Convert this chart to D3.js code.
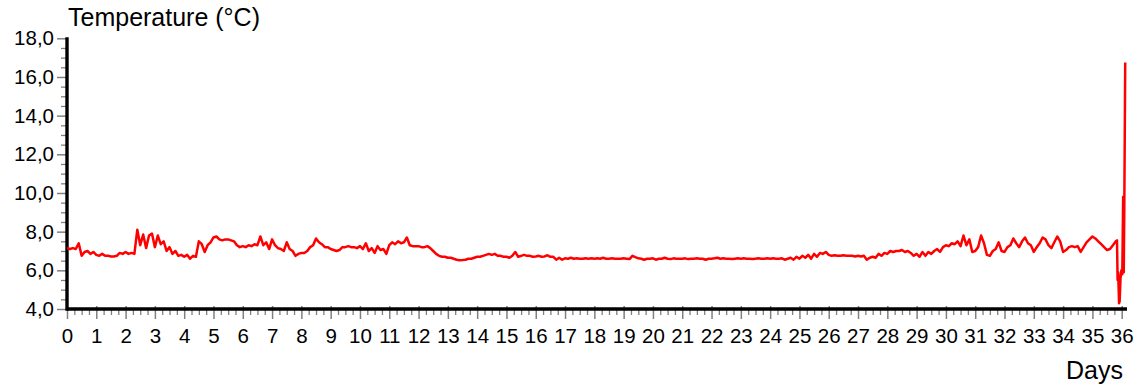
<!DOCTYPE html>
<html>
<head>
<meta charset="utf-8">
<script src="https://cdn.jsdelivr.net/npm/d3@7"></script>
<style>
  html, body { margin: 0; padding: 0; background: #fff; }
  svg { display: block; }
  text { font-family: "Liberation Sans", Arial, sans-serif; fill: #000; }
</style>
</head>
<body>
<svg id="chart" width="1138" height="389"></svg>
<script>
// ---- data ----
const yTitle = "Temperature (°C)";
const xTitle = "Days";
const xTickValues = d3.range(0, 37, 1);
const yTickValues = [4, 6, 8, 10, 12, 14, 16, 18];
const mainStartDay = 0;
const mainStepDays = 0.1;
// temperatures every 0.1 day from day 0.0 to day 35.8
const mainTemps = [
  7.15, 7.1, 7.15, 7.1, 7.4, 6.75, 6.95, 7.0, 6.85, 6.95,
  6.8, 6.75, 6.85, 6.75, 6.75, 6.72, 6.72, 6.75, 6.9, 6.85,
  6.95, 6.85, 6.9, 6.85, 8.1, 7.3, 7.85, 7.15, 7.8, 7.9,
  7.2, 7.8, 7.35, 7.5, 7.0, 7.2, 6.85, 7.0, 6.75, 6.8,
  6.7, 6.8, 6.6, 6.75, 6.7, 7.5, 7.35, 6.95, 7.3, 7.45,
  7.7, 7.75, 7.6, 7.55, 7.6, 7.6, 7.55, 7.5, 7.3, 7.2,
  7.25, 7.2, 7.3, 7.25, 7.35, 7.3, 7.75, 7.3, 7.45, 7.1,
  7.6, 7.3, 7.15, 7.1, 7.0, 7.45, 7.1, 7.0, 6.75, 6.85,
  6.9, 6.9, 7.0, 7.2, 7.3, 7.65, 7.45, 7.35, 7.2, 7.2,
  7.1, 7.05, 7.0, 7.05, 7.2, 7.2, 7.25, 7.2, 7.2, 7.15,
  7.25, 7.1, 7.4, 7.0, 7.15, 6.9, 7.25, 7.05, 7.1, 6.85,
  7.3, 7.45, 7.35, 7.5, 7.4, 7.45, 7.7, 7.3, 7.25, 7.25,
  7.25, 7.2, 7.2, 7.25, 7.15, 7.0, 6.85, 6.75, 6.7, 6.7,
  6.65, 6.65, 6.6, 6.55, 6.52, 6.53, 6.55, 6.6, 6.6, 6.65,
  6.7, 6.7, 6.75, 6.8, 6.85, 6.8, 6.85, 6.75, 6.75, 6.7,
  6.7, 6.65, 6.75, 6.95, 6.7, 6.75, 6.8, 6.75, 6.75, 6.7,
  6.72, 6.75, 6.7, 6.72, 6.78, 6.7, 6.7, 6.55, 6.65, 6.55,
  6.62, 6.6, 6.65, 6.6, 6.62, 6.6, 6.6, 6.62, 6.6, 6.62,
  6.6, 6.62, 6.6, 6.65, 6.6, 6.6, 6.62, 6.6, 6.6, 6.6,
  6.62, 6.6, 6.58, 6.75, 6.68, 6.62, 6.6, 6.55, 6.6, 6.6,
  6.62, 6.55, 6.6, 6.6, 6.65, 6.6, 6.58, 6.62, 6.6, 6.6,
  6.6, 6.62, 6.58, 6.6, 6.6, 6.62, 6.6, 6.6, 6.55, 6.6,
  6.6, 6.62, 6.65, 6.6, 6.62, 6.6, 6.6, 6.58, 6.6, 6.62,
  6.6, 6.62, 6.6, 6.6, 6.58, 6.6, 6.62, 6.6, 6.6, 6.62,
  6.6, 6.62, 6.6, 6.6, 6.62, 6.55, 6.6, 6.65, 6.55, 6.7,
  6.6, 6.75, 6.65, 6.8, 6.6, 6.85, 6.7, 6.9, 6.85, 6.95,
  6.8, 6.75, 6.78, 6.75, 6.75, 6.78, 6.75, 6.75, 6.75, 6.72,
  6.75, 6.72, 6.75, 6.55, 6.65, 6.7, 6.65, 6.85, 6.75, 6.9,
  6.85, 7.0, 6.95, 7.0, 7.0, 7.05, 6.95, 7.0, 6.9, 6.75,
  6.85, 6.7, 6.95, 6.75, 6.95, 6.85, 7.0, 7.1, 6.95, 7.2,
  7.3, 7.25, 7.4, 7.35, 7.5, 7.25, 7.8, 7.3, 7.6, 6.95,
  7.0, 7.2, 7.8, 7.4, 6.8, 6.75, 7.0, 7.1, 7.45, 7.0,
  6.95, 7.2, 7.3, 7.65, 7.4, 7.2, 7.5, 7.7, 7.4, 7.3,
  6.95, 7.2, 7.4, 7.7, 7.6, 7.3, 7.15, 7.45, 7.75, 7.5,
  6.95, 7.05, 7.2, 7.25, 7.2, 7.25, 6.95, 7.2, 7.45, 7.6,
  7.75, 7.65, 7.5, 7.35, 7.2, 7.05, 7.1, 7.3, 7.5
];
// final minutes: drop and spike at the end of the record
const tailDays  = [35.84, 35.86, 35.88, 35.91, 35.93, 35.96, 35.99, 36.02, 36.05, 36.07, 36.09, 36.12];
const tailTemps = [7.55, 5.5, 5.9, 4.3, 4.4, 5.6, 6.0, 5.8, 9.8, 5.9, 9.5, 16.75];

const series = mainTemps.map((t, i) => ({ day: mainStartDay + i * mainStepDays, temp: t }))
  .concat(tailDays.map((d, i) => ({ day: d, temp: tailTemps[i] })));

// ---- layout ----
const svg = d3.select("#chart");
const x = d3.scaleLinear().domain([0, 36]).range([67, 1121.7]);
const y = d3.scaleLinear().domain([4, 18]).range([309, 38.3]);
const fmt = d => d.toFixed(1).replace(".", ",");
const tickColor = "#808080";

// Y axis minor ticks
const yMinor = d3.range(4, 18.01, 0.5).filter(v => Math.abs(v % 2) > 0.01);
svg.append("g").attr("transform", "translate(67,0)")
  .call(d3.axisLeft(y).tickValues(yMinor).tickSize(6).tickFormat(""))
  .call(g => g.select(".domain").remove())
  .call(g => g.selectAll("line").attr("stroke", tickColor).attr("stroke-width", 1.3));
// Y axis major ticks + labels
svg.append("g").attr("transform", "translate(67,0)")
  .call(d3.axisLeft(y).tickValues(yTickValues).tickSize(10).tickPadding(3).tickFormat(fmt))
  .call(g => g.select(".domain").remove())
  .call(g => g.selectAll("line").attr("stroke", tickColor).attr("stroke-width", 1.5))
  .call(g => g.selectAll("text").attr("font-size", 20.5).attr("font-family", "Liberation Sans, Arial, sans-serif").attr("fill", "#000"));

// X axis minor ticks
const xMinor = d3.range(0, 36.01, 0.25).filter(v => Math.abs(v - Math.round(v)) > 0.01);
svg.append("g").attr("transform", "translate(0,309)")
  .call(d3.axisBottom(x).tickValues(xMinor).tickSize(6).tickFormat(""))
  .call(g => g.select(".domain").remove())
  .call(g => g.selectAll("line").attr("stroke", tickColor).attr("stroke-width", 1.3));
// X axis major ticks + labels
const gx = svg.append("g").attr("transform", "translate(0,306)")
  .call(d3.axisBottom(x).tickValues(xTickValues).tickSize(13).tickFormat(d3.format("d")))
  .call(g => g.select(".domain").remove())
  .call(g => g.selectAll("line").attr("stroke", tickColor).attr("stroke-width", 1.5));
gx.selectAll("text").attr("y", 36.5).attr("dy", null)
  .attr("font-size", 20.5).attr("font-family", "Liberation Sans, Arial, sans-serif").attr("fill", "#000");

// thick axis lines
svg.append("line").attr("x1", x(0)).attr("x2", 1127).attr("y1", y(4)).attr("y2", y(4))
  .attr("stroke", "#000").attr("stroke-width", 3.4);
svg.append("line").attr("x1", x(0)).attr("x2", x(0)).attr("y1", y(18) - 1).attr("y2", y(4) + 1.7)
  .attr("stroke", "#000").attr("stroke-width", 3.4);

// data line
const line = d3.line().x(d => x(d.day)).y(d => y(d.temp));
svg.append("path").datum(series)
  .attr("d", line)
  .attr("fill", "none")
  .attr("stroke", "#ff0000")
  .attr("stroke-width", 2.5)
  .attr("stroke-linejoin", "round");

// titles
svg.append("text").attr("x", 68).attr("y", 26).attr("font-size", 25).text(yTitle);
svg.append("text").attr("x", 1123).attr("y", 379).attr("text-anchor", "end").attr("font-size", 25).text(xTitle);
</script>
</body>
</html>
